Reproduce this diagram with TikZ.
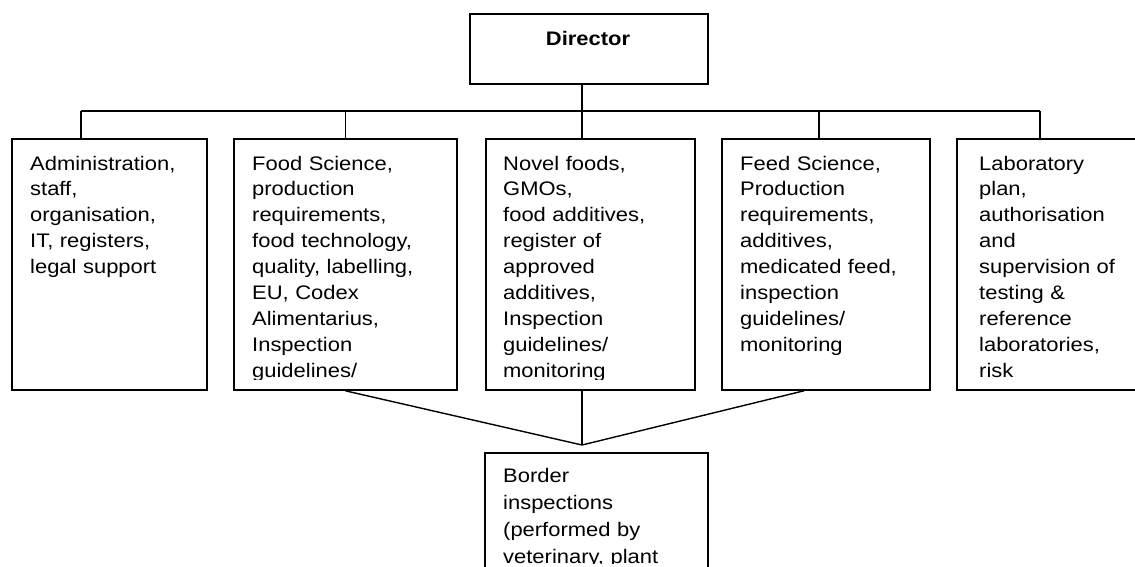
\documentclass[tikz,border=0pt]{standalone}
\usepackage{fontspec}
\setmainfont{Liberation Sans}[FakeStretch=1.12]

\begin{document}
\begin{tikzpicture}[x=1pt,y=-1pt,
  orgbox/.style={draw, line width=1.8pt, rectangle, inner sep=0pt, anchor=north west},
  boxtext/.style={anchor=base west, inner sep=0pt, text width=230pt, align=left,
    font=\fontsize{19.6}{25.9}\selectfont},
  headtext/.style={anchor=base, inner sep=0pt, font=\fontsize{19.6}{25.9}\selectfont\bfseries},
  wire/.style={line width=1.4pt},
  busline/.style={line width=2pt}]

\useasboundingbox (0,0) rectangle (1135,566);
\clip (0,0) rectangle (1135,566);

% boxes
\node[orgbox, minimum width=238pt, minimum height=70pt] (dir) at (469,13) {};
\node[headtext] (dirtext) at (588,45) {Director};

\node[orgbox, minimum width=195pt, minimum height=251pt] (b1) at (11,138) {};
\node[orgbox, minimum width=223pt, minimum height=251pt] (b2) at (233,138) {};
\node[orgbox, minimum width=209pt, minimum height=251pt] (b3) at (485,138) {};
\node[orgbox, minimum width=208pt, minimum height=251pt] (b4) at (721,138) {};
\node[orgbox, minimum width=190pt, minimum height=251pt] (b5) at (956,138) {};
\node[orgbox, minimum width=223pt, minimum height=140pt] (bord) at (484,452) {};

% box texts, cut off at the lower margin of each box
\begin{scope}
  \clip (11,138) rectangle (206,379);
  \node[boxtext] (t1) at (30,170) {Administration,\\staff,\\organisation,\\IT, registers,\\legal support};
\end{scope}
\begin{scope}
  \clip (233,138) rectangle (456,379);
  \node[boxtext] (t2) at (252,170) {Food Science,\\production\\requirements,\\food technology,\\quality, labelling,\\EU, Codex\\Alimentarius,\\Inspection\\guidelines/};
\end{scope}
\begin{scope}
  \clip (485,138) rectangle (694,379);
  \node[boxtext] (t3) at (503,170) {Novel foods,\\GMOs,\\food additives,\\register of\\approved\\additives,\\Inspection\\guidelines/\\monitoring};
\end{scope}
\begin{scope}
  \clip (721,138) rectangle (929,379);
  \node[boxtext] (t4) at (740,170) {Feed Science,\\Production\\requirements,\\additives,\\medicated feed,\\inspection\\guidelines/\\monitoring};
\end{scope}
\begin{scope}
  \clip (956,138) rectangle (1146,379);
  \node[boxtext] (t5) at (979,170) {Laboratory\\plan,\\authorisation\\and\\supervision of\\testing \&\\reference\\laboratories,\\risk};
\end{scope}
\begin{scope}
  \clip (484,452) rectangle (707,563.5);
  \node[boxtext, font=\fontsize{19.6}{27}\selectfont] (t6) at (503,482) {Border\\inspections\\(performed by\\veterinary, plant};
\end{scope}

% connectors from the director to the units
\coordinate (hub) at (582,111);
\draw[wire] (dir.south -| hub) -- (hub);
\draw[busline] ([xshift=-28.5pt]b1.north |- hub) -- ([xshift=84pt]b5.north west |- hub);
\draw[wire] ([xshift=-28.5pt]b1.north |- hub) -- ([xshift=-28.5pt]b1.north);
\draw[wire] (b2.north |- hub) -- (b2.north);
\draw[wire] (hub) -- (hub |- b3.north);
\draw[wire] ([xshift=-7pt]b4.north |- hub) -- ([xshift=-7pt]b4.north);
\draw[wire] ([xshift=84pt]b5.north west |- hub) -- ([xshift=84pt]b5.north west);

% connectors from three units to the border inspections
\coordinate (meet) at (582,445);
\draw[wire] (b2.south) -- (meet);
\draw[wire] (meet |- b3.south) -- (meet);
\draw[wire] ([xshift=-22pt]b4.south) -- (meet);
\end{tikzpicture}
\end{document}
